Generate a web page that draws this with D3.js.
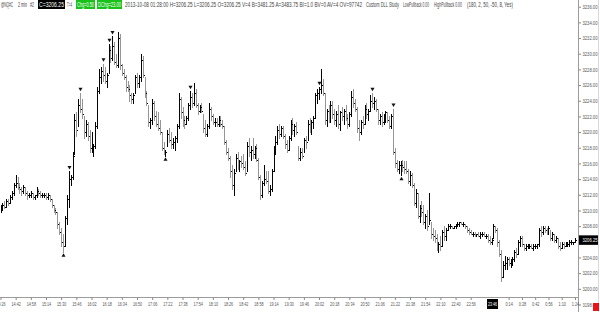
<!DOCTYPE html>
<html>
<head>
<meta charset="utf-8">
<script src="https://cdn.jsdelivr.net/npm/d3@7"></script>
<style>
  body { margin: 0; background: #fff; }
  svg { display: block; font-family: "Liberation Sans", Arial, sans-serif; }
</style>
</head>
<body>
<svg class="main-svg" width="600" height="312"></svg>
<script>
// 2 min bars, one row per 16 min label step
const highs = [
  3210.75, 3211.0, 3211.25, 3211.5, 3211.5, 3212.0, 3212.5, 3213.5,
  3214.5, 3214.25, 3213.5, 3213.0, 3213.25, 3213.0, 3212.5, 3212.25,
  3212.5, 3212.25, 3212.0, 3213.0, 3212.75, 3212.5, 3212.25, 3212.25,
  3212.25, 3212.25, 3212.0, 3211.5, 3210.75, 3210.25, 3209.75, 3208.5,
  3207.75, 3207.0, 3209.25, 3212.0, 3215.0, 3214.5, 3217.5, 3222.25,
  3222.5, 3224.25, 3225.0, 3224.25, 3222.0, 3221.5, 3221.25, 3220.25,
  3220.0, 3218.5, 3221.25, 3225.75, 3228.0, 3228.25, 3228.75, 3228.25,
  3227.5, 3231.25, 3231.0, 3232.25, 3231.5, 3230.0, 3232.75, 3232.5,
  3228.75, 3228.0, 3227.25, 3226.5, 3226.0, 3225.0, 3225.0, 3227.25,
  3227.5, 3227.25, 3230.0, 3229.75, 3227.0, 3225.25, 3223.5, 3221.75,
  3224.25, 3224.0, 3222.75, 3222.5, 3221.5, 3220.0, 3218.75, 3217.75,
  3220.25, 3220.5, 3220.0, 3219.25, 3219.5, 3221.0, 3225.0, 3224.5,
  3223.25, 3222.0, 3222.0, 3223.75, 3225.25, 3225.0, 3226.25, 3225.5,
  3223.75, 3223.5, 3223.75, 3222.25, 3221.5, 3221.0, 3223.75, 3223.25,
  3222.25, 3221.75, 3221.75, 3222.0, 3222.0, 3221.5, 3220.75, 3219.0,
  3218.0, 3217.0, 3215.75, 3215.25, 3217.25, 3217.5, 3216.5, 3217.0,
  3217.25, 3216.25, 3218.75, 3219.25, 3218.25, 3219.25, 3218.25, 3218.5,
  3216.75, 3214.5, 3213.75, 3215.75, 3215.0, 3215.0, 3213.25, 3215.25,
  3218.25, 3219.5, 3220.75, 3221.0, 3220.75, 3220.75, 3219.75, 3219.0,
  3219.5, 3221.5, 3221.75, 3221.0, 3221.25, 3218.25, 3218.0, 3218.0,
  3219.25, 3219.5, 3221.5, 3221.75, 3221.5, 3222.0, 3225.0, 3225.5,
  3225.75, 3228.0, 3226.75, 3225.0, 3223.0, 3223.5, 3224.0, 3224.0,
  3223.0, 3222.75, 3223.5, 3222.75, 3223.25, 3223.0, 3223.5, 3222.25,
  3222.5, 3225.25, 3225.5, 3224.25, 3223.25, 3221.5, 3221.5, 3222.0,
  3223.5, 3223.75, 3223.0, 3224.75, 3225.0, 3224.5, 3224.25, 3223.0,
  3222.25, 3222.5, 3222.25, 3222.75, 3222.5, 3222.0, 3222.25, 3223.0,
  3218.0, 3216.5, 3216.25, 3216.25, 3216.5, 3216.25, 3216.25, 3215.25,
  3215.0, 3214.75, 3213.5, 3212.75, 3212.25, 3210.75, 3211.25, 3210.75,
  3209.5, 3210.0, 3212.25, 3208.5, 3207.75, 3207.5, 3207.0, 3206.0,
  3206.75, 3207.5, 3208.0, 3207.75, 3208.25, 3208.25, 3208.0, 3208.0,
  3208.25, 3208.5, 3208.5, 3208.5, 3208.5, 3208.25, 3208.0, 3207.75,
  3207.5, 3207.25, 3207.25, 3207.0, 3207.25, 3207.25, 3207.25, 3207.25,
  3207.0, 3207.0, 3206.75, 3206.5, 3208.25, 3208.0, 3207.75, 3206.25,
  3205.0, 3203.5, 3204.25, 3204.0, 3204.0, 3203.75, 3204.0, 3205.0,
  3205.25, 3206.25, 3206.75, 3206.75, 3205.75, 3205.75, 3205.75, 3205.75,
  3205.75, 3205.75, 3205.75, 3205.75, 3207.75, 3208.0, 3208.0, 3208.0,
  3207.75, 3208.0, 3207.5, 3207.25, 3207.0, 3206.75, 3206.5, 3206.0,
  3206.0, 3206.0, 3206.0, 3206.0, 3206.25, 3206.25, 3206.0, 3206.5
];

const lows = [
  3209.75, 3210.0, 3210.25, 3210.5, 3210.75, 3211.0, 3211.5, 3212.0,
  3213.0, 3212.75, 3212.25, 3212.0, 3212.25, 3212.0, 3211.5, 3211.75,
  3211.75, 3211.5, 3211.5, 3211.75, 3212.0, 3211.75, 3211.75, 3211.75,
  3211.5, 3211.5, 3211.25, 3210.5, 3209.75, 3209.5, 3207.75, 3207.0,
  3205.5, 3204.75, 3205.5, 3208.25, 3210.5, 3213.25, 3214.0, 3217.25,
  3219.5, 3220.75, 3222.5, 3221.75, 3219.25, 3219.5, 3219.0, 3217.5,
  3217.5, 3217.0, 3218.0, 3220.5, 3225.0, 3226.25, 3226.5, 3226.25,
  3225.75, 3227.5, 3229.0, 3229.25, 3228.75, 3228.25, 3228.25, 3228.0,
  3227.25, 3226.75, 3225.25, 3225.25, 3224.0, 3223.75, 3223.75, 3225.0,
  3225.75, 3225.75, 3226.5, 3227.0, 3224.5, 3223.5, 3220.75, 3220.5,
  3221.0, 3221.5, 3220.75, 3220.25, 3219.75, 3217.75, 3217.25, 3217.0,
  3218.25, 3218.75, 3218.0, 3218.0, 3217.75, 3218.75, 3220.5, 3221.75,
  3220.75, 3220.5, 3221.0, 3221.5, 3223.0, 3223.25, 3223.5, 3223.25,
  3222.25, 3222.5, 3222.5, 3220.0, 3219.5, 3219.5, 3220.5, 3221.5,
  3221.0, 3220.75, 3220.75, 3220.75, 3220.75, 3220.5, 3218.5, 3217.25,
  3216.5, 3214.25, 3212.75, 3212.0, 3215.0, 3215.25, 3215.0, 3215.5,
  3215.25, 3214.5, 3215.0, 3217.0, 3216.5, 3216.75, 3216.75, 3216.25,
  3214.0, 3211.5, 3211.75, 3213.25, 3213.5, 3212.25, 3212.0, 3212.5,
  3215.0, 3217.25, 3218.5, 3219.25, 3219.5, 3219.25, 3218.0, 3217.5,
  3217.75, 3219.0, 3219.75, 3219.5, 3219.75, 3216.5, 3216.5, 3216.75,
  3217.5, 3218.0, 3219.0, 3220.0, 3219.75, 3220.5, 3221.75, 3223.75,
  3224.25, 3225.0, 3224.75, 3221.0, 3220.75, 3221.25, 3221.25, 3221.75,
  3221.0, 3220.75, 3220.5, 3220.25, 3221.5, 3221.0, 3221.5, 3220.5,
  3220.75, 3222.0, 3223.25, 3222.75, 3220.0, 3219.0, 3219.75, 3220.5,
  3221.0, 3221.75, 3221.5, 3222.75, 3223.25, 3223.0, 3222.75, 3221.0,
  3221.0, 3220.75, 3221.0, 3221.25, 3221.25, 3220.5, 3220.5, 3217.25,
  3215.5, 3215.0, 3214.75, 3214.5, 3215.0, 3214.75, 3214.75, 3213.5,
  3213.25, 3213.0, 3210.75, 3210.5, 3209.0, 3208.5, 3209.25, 3208.25,
  3207.75, 3207.5, 3208.25, 3206.5, 3206.25, 3206.0, 3205.0, 3204.75,
  3205.0, 3205.5, 3206.25, 3206.25, 3207.5, 3207.75, 3207.75, 3207.75,
  3207.75, 3208.0, 3208.0, 3208.25, 3208.0, 3207.75, 3207.25, 3207.0,
  3207.0, 3206.75, 3206.75, 3206.75, 3206.75, 3206.5, 3206.75, 3206.75,
  3206.5, 3206.0, 3205.75, 3205.75, 3206.5, 3207.25, 3205.5, 3204.25,
  3201.0, 3201.5, 3202.5, 3202.5, 3203.0, 3202.75, 3203.0, 3203.5,
  3204.0, 3204.5, 3205.5, 3205.5, 3205.0, 3205.0, 3205.25, 3205.25,
  3205.25, 3205.0, 3205.25, 3205.25, 3205.5, 3206.75, 3207.0, 3207.25,
  3207.0, 3207.0, 3206.25, 3206.25, 3206.0, 3206.0, 3205.25, 3205.0,
  3205.25, 3205.25, 3205.5, 3205.5, 3205.5, 3205.75, 3205.75, 3206.0
];

const closes = [
  3210.25, 3210.75, 3210.5, 3211.25, 3211.0, 3211.75, 3212.25, 3213.25,
  3213.5, 3213.0, 3212.75, 3212.5, 3213.0, 3212.25, 3212.0, 3212.0,
  3212.25, 3211.75, 3212.0, 3212.5, 3212.25, 3212.0, 3212.0, 3212.0,
  3211.75, 3212.0, 3211.5, 3210.75, 3210.0, 3209.75, 3208.25, 3207.25,
  3206.0, 3205.5, 3209.0, 3211.5, 3214.0, 3214.25, 3217.0, 3221.5,
  3220.25, 3223.5, 3223.0, 3222.25, 3220.0, 3221.0, 3219.5, 3218.0,
  3218.0, 3218.25, 3220.75, 3225.25, 3227.0, 3227.75, 3227.25, 3226.5,
  3227.25, 3230.5, 3229.5, 3231.0, 3229.0, 3228.5, 3232.0, 3228.5,
  3227.5, 3227.0, 3225.75, 3225.5, 3224.75, 3224.25, 3224.75, 3227.0,
  3226.25, 3227.0, 3229.25, 3227.25, 3225.0, 3223.75, 3221.25, 3221.5,
  3223.75, 3222.0, 3221.0, 3220.5, 3220.0, 3218.0, 3217.25, 3217.5,
  3219.75, 3219.0, 3218.5, 3218.75, 3219.25, 3220.75, 3224.25, 3222.5,
  3221.5, 3221.0, 3221.75, 3223.5, 3224.5, 3223.75, 3225.0, 3223.5,
  3222.75, 3223.25, 3222.75, 3220.5, 3219.75, 3220.75, 3223.0, 3222.0,
  3221.25, 3221.25, 3221.0, 3221.5, 3221.0, 3220.75, 3218.75, 3217.5,
  3216.75, 3215.0, 3213.25, 3214.75, 3216.75, 3215.75, 3216.25, 3216.0,
  3215.5, 3214.75, 3218.25, 3217.5, 3217.75, 3217.25, 3218.0, 3216.5,
  3214.25, 3212.0, 3213.5, 3214.0, 3213.75, 3212.5, 3212.75, 3215.0,
  3217.75, 3218.75, 3220.25, 3219.75, 3220.5, 3219.5, 3218.5, 3217.75,
  3219.25, 3221.0, 3220.25, 3220.75, 3220.0, 3216.75, 3217.5, 3217.0,
  3219.0, 3218.75, 3221.0, 3220.5, 3221.25, 3221.75, 3224.75, 3225.0,
  3225.5, 3226.0, 3225.0, 3221.5, 3222.75, 3221.75, 3223.5, 3222.25,
  3221.5, 3222.25, 3221.0, 3222.5, 3222.0, 3222.75, 3221.75, 3221.0,
  3222.25, 3224.5, 3223.75, 3223.0, 3220.5, 3220.0, 3221.25, 3221.0,
  3223.0, 3222.25, 3222.75, 3224.0, 3223.75, 3224.0, 3223.0, 3221.5,
  3222.0, 3221.25, 3221.75, 3222.5, 3221.5, 3220.75, 3222.0, 3217.5,
  3216.0, 3215.25, 3215.75, 3215.75, 3215.5, 3215.25, 3215.0, 3213.75,
  3214.5, 3213.25, 3211.0, 3212.25, 3209.25, 3210.25, 3209.75, 3208.5,
  3209.25, 3208.0, 3208.75, 3207.0, 3206.75, 3206.5, 3205.25, 3205.75,
  3205.5, 3207.25, 3206.75, 3207.5, 3208.0, 3208.0, 3207.75, 3208.0,
  3208.0, 3208.25, 3208.5, 3208.25, 3208.25, 3208.0, 3207.5, 3207.25,
  3207.0, 3207.0, 3206.75, 3207.0, 3206.75, 3207.0, 3207.0, 3206.75,
  3206.75, 3206.25, 3206.0, 3206.25, 3208.0, 3207.5, 3206.0, 3204.5,
  3201.5, 3203.0, 3203.25, 3203.75, 3203.25, 3203.5, 3203.75, 3204.75,
  3204.5, 3206.0, 3206.5, 3205.75, 3205.25, 3205.5, 3205.5, 3205.5,
  3205.25, 3205.5, 3205.5, 3205.75, 3207.5, 3207.25, 3207.75, 3207.5,
  3207.25, 3207.75, 3206.5, 3207.0, 3206.25, 3206.5, 3205.5, 3205.25,
  3205.75, 3205.5, 3205.75, 3205.75, 3206.0, 3206.0, 3206.0, 3206.25
];

// pullback study markers (bar index)
const highMarks = [36, 42, 54, 57, 59, 100, 168, 196, 207];
const lowMarks = [33, 87, 211];

// time axis labels (bar index, text)
const timeTickIdx = [0, 8, 16, 24, 32, 40, 48, 56, 64, 72, 80, 88, 96, 104, 112, 120,
  128, 136, 144, 152, 160, 168, 176, 184, 192, 200, 208, 216, 224, 232, 240, 248,
  268, 275, 282, 289, 296, 303];
const timeTickText = ["14:26", "14:42", "14:58", "15:14", "15:30", "15:46", "16:02", "16:18",
  "16:34", "16:50", "17:06", "17:22", "17:38", "17:54", "18:10", "18:26", "18:42", "18:58",
  "19:14", "19:30", "19:46", "20:02", "20:18", "20:34", "20:50", "21:06", "21:22", "21:38",
  "21:54", "22:10", "22:40", "22:56", "0:14", "0:28", "0:42", "0:56", "1:10", "1:24"];
const cursorIdx = 259.5;
const cursorText = "23:46";

const lastPrice = 3206.25;
// the last price box covers the 3206.00 label
const priceTicks = d3.range(3198, 3237, 2).filter(v => Math.abs(v - lastPrice) > 1);

const svg = d3.select(".main-svg");
const axisX = 578.5, axisY = 297.5;
const fs = 5.6;     // label font size
const sxY = 0.74;   // horizontal squeeze of price labels
const sxT = 0.66;   // horizontal squeeze of time labels

const x = d3.scaleLinear().domain([0, highs.length - 1]).range([0.5, 575]);
const y = d3.scaleLinear().domain([3198, 3236]).range([304.5, 6.7]);

svg.append("clipPath").attr("id", "plot")
  .append("rect").attr("x", 0).attr("y", 0).attr("width", 578).attr("height", 297);

// bars
const bars = svg.append("g")
  .attr("clip-path", "url(#plot)")
  .attr("shape-rendering", "crispEdges");

const idx = d3.range(highs.length);
const color = i => (i === 0 || closes[i] >= closes[i - 1]) ? "#050505" : "#969696";

bars.selectAll("rect.hl")
  .data(idx)
  .join("rect")
    .attr("class", "hl")
    .attr("x", i => Math.round(x(i)))
    .attr("y", i => Math.round(y(highs[i])))
    .attr("width", 1)
    .attr("height", i => Math.max(1, Math.round(y(lows[i])) - Math.round(y(highs[i])) + 1))
    .attr("fill", color);

bars.selectAll("rect.cl")
  .data(idx)
  .join("rect")
    .attr("class", "cl")
    .attr("x", i => Math.round(x(i)) + 1)
    .attr("y", i => Math.round(y(closes[i])))
    .attr("width", 1)
    .attr("height", 1)
    .attr("fill", "#000");

// markers
const tri = d3.symbol().type(d3.symbolTriangle).size(7);
svg.append("g").selectAll("path.hm")
  .data(highMarks)
  .join("path")
    .attr("d", tri)
    .attr("fill", "#111")
    .attr("transform", i => `translate(${Math.round(x(i)) + 0.5},${y(highs[i]) - 4}) rotate(180)`);
svg.append("g").selectAll("path.lm")
  .data(lowMarks)
  .join("path")
    .attr("d", tri)
    .attr("fill", "#111")
    .attr("transform", i => `translate(${Math.round(x(i)) + 0.5},${y(lows[i]) + 4})`);

// frame lines
svg.append("line").attr("x1", 0).attr("x2", axisX).attr("y1", axisY).attr("y2", axisY)
  .attr("stroke", "#9c9c9c");
svg.append("line").attr("x1", axisX).attr("x2", axisX).attr("y1", 0).attr("y2", 312)
  .attr("stroke", "#9c9c9c");
svg.append("line").attr("x1", 598.5).attr("x2", 598.5).attr("y1", 0).attr("y2", 312)
  .attr("stroke", "#d8d8d8");

// price axis
const yAxis = svg.append("g")
  .attr("transform", `translate(${axisX},0)`)
  .call(d3.axisRight(y).tickValues(priceTicks).tickSize(2.5).tickPadding(1.5)
    .tickFormat(d3.format(".2f")));
yAxis.select(".domain").remove();
yAxis.selectAll("line").attr("stroke", "#888");
yAxis.selectAll("text")
  .attr("font-size", fs)
  .attr("fill", "#555")
  .attr("x", 4 / sxY)
  .attr("transform", `scale(${sxY},1)`)
  .attr("textLength", 15 / sxY)
  .attr("lengthAdjust", "spacingAndGlyphs");

// time axis
const xAxis = svg.append("g")
  .attr("transform", `translate(0,${axisY})`)
  .call(d3.axisBottom(x).tickValues(timeTickIdx).tickSize(2.5).tickPadding(2)
    .tickFormat((d, i) => timeTickText[i]));
xAxis.select(".domain").remove();
xAxis.selectAll("line").attr("stroke", "#888");
xAxis.selectAll("text")
  .attr("font-size", fs)
  .attr("fill", "#555")
  .attr("transform", `scale(${sxT},1)`)
  .attr("textLength", (d, i) => timeTickText[i].length * 1.85 / sxT)
  .attr("lengthAdjust", "spacingAndGlyphs");

// cursor time box
const cx = x(cursorIdx);
svg.append("rect").attr("x", cx - 5.5).attr("y", 299).attr("width", 11).attr("height", 10)
  .attr("fill", "#000");
svg.append("text")
  .attr("transform", `translate(${cx},306.3) scale(${sxT},1)`)
  .attr("text-anchor", "middle")
  .attr("font-size", fs).attr("fill", "#fff")
  .attr("textLength", 9 / sxT).attr("lengthAdjust", "spacingAndGlyphs")
  .text(cursorText);

// last price box
const ly = y(lastPrice);
svg.append("rect").attr("x", 579).attr("y", ly - 4.5).attr("width", 19).attr("height", 9.5)
  .attr("fill", "#000");
svg.append("text")
  .attr("transform", `translate(582.5,${ly + 2}) scale(${sxY},1)`)
  .attr("font-size", fs).attr("fill", "#fff")
  .attr("textLength", 15 / sxY).attr("lengthAdjust", "spacingAndGlyphs")
  .text(lastPrice.toFixed(2));

// red status square
svg.append("rect").attr("x", 593).attr("y", 303).attr("width", 6).attr("height", 8)
  .attr("fill", "#e8141a");

// header line (condensed horizontally like the source screenshot)
const header = [
  { t: "@NQ#C", x0: 1, x1: 13 },
  { t: "2 min", x0: 18, x1: 27 },
  { t: "#2", x0: 30, x1: 34 },
  { t: "C=3206.25", x0: 39, x1: 64, bg: "#000" },
  { t: "T=4", x0: 67, x1: 72 },
  { t: "Chg=0.50", x0: 77, x1: 94, bg: "#19c219" },
  { t: "DChg=23.00", x0: 98, x1: 121, bg: "#19c219" },
  { t: "2013-10-08 01:28:00 H=3206.25 L=3206.25 O=3206.25 V=4 B=3481.25 A=3483.75 BI=1.0 BV=0 AV=4 OV=97742",
    x0: 125, x1: 362 },
  { t: "Custom DLL Study", x0: 366, x1: 399 },
  { t: "LowPullback 0.00", x0: 403, x1: 429 },
  { t: "HighPullback 0.00", x0: 434, x1: 462 },
  { t: "(180, 2, 50, -50, 8, Yes)", x0: 467, x1: 513 }
];
const sx = 0.62;

svg.append("g").selectAll("rect")
  .data(header.filter(d => d.bg))
  .join("rect")
    .attr("x", d => d.x0 - 1)
    .attr("y", 0)
    .attr("width", d => d.x1 - d.x0 + 2)
    .attr("height", 9)
    .attr("fill", d => d.bg);

svg.append("g")
  .attr("transform", `scale(${sx},1)`)
  .selectAll("text")
  .data(header)
  .join("text")
    .attr("x", d => d.x0 / sx)
    .attr("y", 6.8)
    .attr("font-size", 6.6)
    .attr("fill", d => d.bg ? "#fff" : "#444")
    .attr("textLength", d => (d.x1 - d.x0) / sx)
    .attr("lengthAdjust", "spacingAndGlyphs")
    .text(d => d.t);
</script>
</body>
</html>
